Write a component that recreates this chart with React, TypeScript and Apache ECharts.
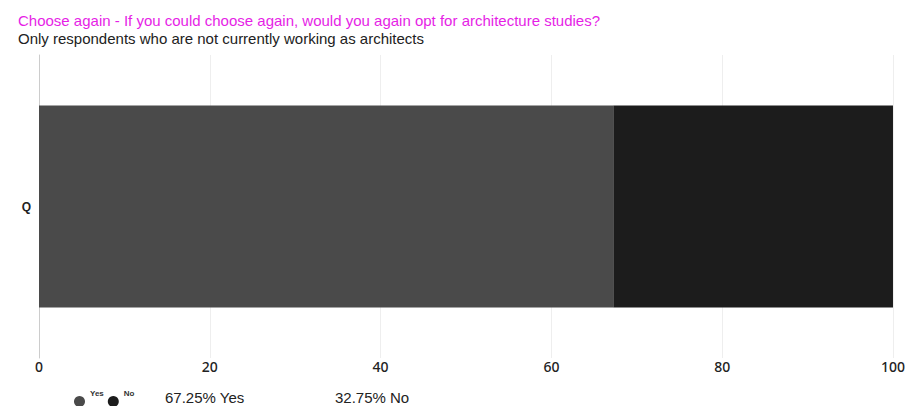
import React, { useEffect, useRef } from "react";
import * as echarts from "echarts";

const categories = ["Q"];
const seriesNames = ["Yes", "No"];
const yesValues = [67.25];
const noValues = [32.75];
const seriesColors = ["#4a4a4a", "#1c1c1c"];
const xTicks = [0, 20, 40, 60, 80, 100];

export default function App() {
  const ref = useRef<HTMLDivElement>(null);
  useEffect(() => {
    if (!ref.current) return;
    const chart = echarts.init(ref.current, undefined, { renderer: "svg" });
    const allValues = [yesValues, noValues];
    const summaryX = [165, 335];
    chart.setOption({
      animation: false,
      backgroundColor: "#ffffff",
      title: {
        text: "Choose again - If you could choose again, would you again opt for architecture studies?",
        subtext: "Only respondents who are not currently working as architects",
        left: 13,
        top: 8,
        itemGap: 3,
        textStyle: { color: "#e61ee6", fontSize: 15, fontWeight: "normal", fontFamily: "Liberation Sans" },
        subtextStyle: { color: "#222222", fontSize: 15, fontFamily: "Liberation Sans" },
      },
      legend: {
        data: seriesNames,
        left: 74,
        top: 389,
        icon: "circle",
        itemWidth: 11,
        itemHeight: 11,
        itemGap: 4,
        padding: 0,
        formatter: "{t|{name}}",
        textStyle: {
          fontSize: 8,
          color: "#333",
          fontWeight: "bold",
          fontFamily: "Liberation Sans",
          rich: { t: { fontSize: 8, fontWeight: "bold", color: "#333", fontFamily: "Liberation Sans", padding: [0, 0, 17, 0] } },
        },
      },
      grid: { left: 39, right: 14.5, top: 55, bottom: 48 },
      xAxis: {
        type: "value",
        min: xTicks[0],
        max: xTicks[xTicks.length - 1],
        interval: xTicks[1] - xTicks[0],
        axisLine: { show: false },
        axisTick: { show: false },
        splitLine: { show: true, lineStyle: { color: "#eeeeee", width: 1 } },
        axisLabel: { color: "#222", fontSize: 14, fontFamily: "Noto Sans", fontWeight: 500, margin: 1 },
      },
      yAxis: {
        type: "category",
        data: categories,
        axisLine: { show: true, lineStyle: { color: "#cccccc", width: 1 } },
        axisTick: { show: false },
        axisLabel: { color: "#222", fontSize: 12, fontWeight: "bold", fontFamily: "Liberation Sans", margin: 8 },
      },
      series: seriesNames.map((name, i) => ({
        name,
        type: "bar",
        stack: "total",
        barWidth: 202,
        data: allValues[i],
        itemStyle: { color: seriesColors[i] },
      })),
      color: seriesColors,
      graphic: seriesNames.map((name, i) => ({
        type: "text",
        left: summaryX[i],
        top: 390,
        style: {
          text: `${allValues[i][0].toFixed(2)}% ${name}`,
          fill: "#222",
          fontSize: 15,
          fontFamily: "Liberation Sans",
        },
      })),
    });
    return () => chart.dispose();
  }, []);
  return <div ref={ref} style={{ position: "fixed", left: 0, top: 0, width: 908, height: 406 }} />;
}
